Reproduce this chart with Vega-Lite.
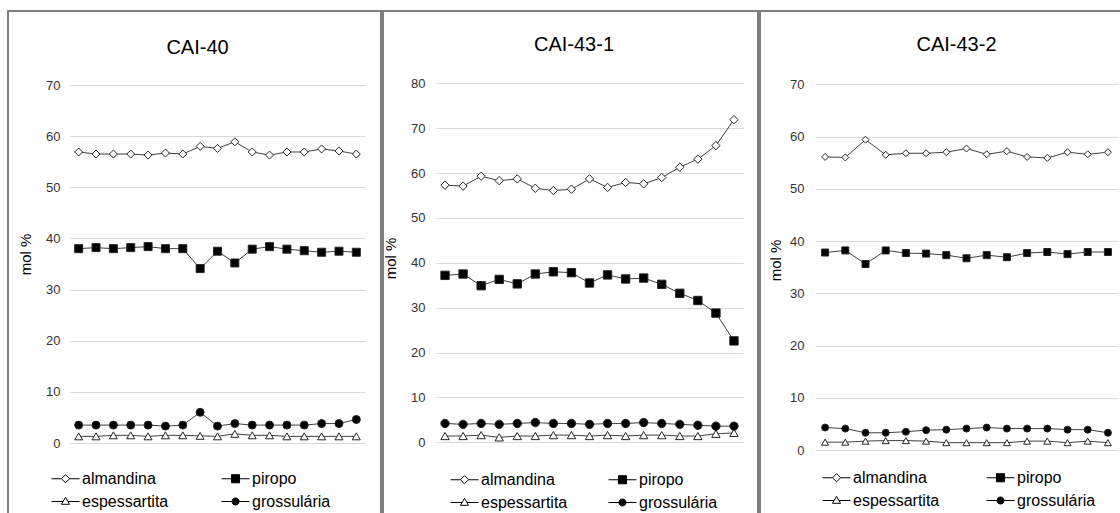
{
  "$schema": "https://vega.github.io/schema/vega-lite/v6.json",
  "padding": {"left": 7, "top": 10, "right": 0, "bottom": 0},
  "spacing": 2,
  "bounds": "flush",
  "config": {
    "font": "Liberation Sans",
    "view": {"stroke": "#7f7f7f", "strokeWidth": 2},
    "axis": {"gridColor": "#d9d9d9", "gridWidth": 1, "domain": false, "ticks": false, "tickSize": 0, "labelPadding": 0, "labelFontSize": 13, "labelColor": "#333333", "titleFontSize": 15, "titleFontWeight": "normal", "titleColor": "#000000", "titleAngle": 270, "titleAlign": "center", "titleBaseline": "middle"},
    "title": {"fontSize": 20, "fontWeight": "normal", "color": "#000000", "anchor": "middle", "baseline": "alphabetic"},
    "legend": {"padding": 0, "labelFontSize": 16, "labelColor": "#000000", "labelOffset": 2, "symbolSize": 784, "symbolStrokeWidth": 1, "symbolOpacity": 1, "rowPadding": 0, "direction": "horizontal"}
  },
  "datasets": {
    "p1": [
      {"i": 1, "almandina": 56.9, "piropo": 38.0, "espessartita": 1.3, "grossulária": 3.5},
      {"i": 2, "almandina": 56.5, "piropo": 38.2, "espessartita": 1.3, "grossulária": 3.5},
      {"i": 3, "almandina": 56.5, "piropo": 38.0, "espessartita": 1.5, "grossulária": 3.5},
      {"i": 4, "almandina": 56.5, "piropo": 38.2, "espessartita": 1.5, "grossulária": 3.5},
      {"i": 5, "almandina": 56.3, "piropo": 38.4, "espessartita": 1.3, "grossulária": 3.5},
      {"i": 6, "almandina": 56.7, "piropo": 38.0, "espessartita": 1.5, "grossulária": 3.3},
      {"i": 7, "almandina": 56.5, "piropo": 38.0, "espessartita": 1.5, "grossulária": 3.5},
      {"i": 8, "almandina": 58.0, "piropo": 34.1, "espessartita": 1.4, "grossulária": 6.0},
      {"i": 9, "almandina": 57.6, "piropo": 37.5, "espessartita": 1.3, "grossulária": 3.3},
      {"i": 10, "almandina": 58.9, "piropo": 35.2, "espessartita": 1.8, "grossulária": 3.8},
      {"i": 11, "almandina": 56.9, "piropo": 37.9, "espessartita": 1.5, "grossulária": 3.5},
      {"i": 12, "almandina": 56.3, "piropo": 38.4, "espessartita": 1.5, "grossulária": 3.5},
      {"i": 13, "almandina": 56.9, "piropo": 37.9, "espessartita": 1.3, "grossulária": 3.5},
      {"i": 14, "almandina": 56.9, "piropo": 37.6, "espessartita": 1.3, "grossulária": 3.5},
      {"i": 15, "almandina": 57.5, "piropo": 37.3, "espessartita": 1.3, "grossulária": 3.8},
      {"i": 16, "almandina": 57.1, "piropo": 37.5, "espessartita": 1.3, "grossulária": 3.8},
      {"i": 17, "almandina": 56.5, "piropo": 37.3, "espessartita": 1.3, "grossulária": 4.6}
    ],
    "p2": [
      {"i": 1, "almandina": 57.3, "piropo": 37.2, "espessartita": 1.4, "grossulária": 4.2},
      {"i": 2, "almandina": 57.1, "piropo": 37.5, "espessartita": 1.4, "grossulária": 4.0},
      {"i": 3, "almandina": 59.3, "piropo": 34.9, "espessartita": 1.6, "grossulária": 4.2},
      {"i": 4, "almandina": 58.3, "piropo": 36.3, "espessartita": 1.1, "grossulária": 4.0},
      {"i": 5, "almandina": 58.7, "piropo": 35.3, "espessartita": 1.4, "grossulária": 4.2},
      {"i": 6, "almandina": 56.6, "piropo": 37.5, "espessartita": 1.4, "grossulária": 4.4},
      {"i": 7, "almandina": 56.1, "piropo": 38.0, "espessartita": 1.6, "grossulária": 4.2},
      {"i": 8, "almandina": 56.4, "piropo": 37.8, "espessartita": 1.6, "grossulária": 4.2},
      {"i": 9, "almandina": 58.7, "piropo": 35.5, "espessartita": 1.4, "grossulária": 4.0},
      {"i": 10, "almandina": 56.8, "piropo": 37.3, "espessartita": 1.6, "grossulária": 4.2},
      {"i": 11, "almandina": 57.9, "piropo": 36.4, "espessartita": 1.4, "grossulária": 4.2},
      {"i": 12, "almandina": 57.6, "piropo": 36.6, "espessartita": 1.6, "grossulária": 4.4},
      {"i": 13, "almandina": 59.0, "piropo": 35.2, "espessartita": 1.6, "grossulária": 4.2},
      {"i": 14, "almandina": 61.3, "piropo": 33.2, "espessartita": 1.4, "grossulária": 4.0},
      {"i": 15, "almandina": 63.1, "piropo": 31.6, "espessartita": 1.4, "grossulária": 3.8},
      {"i": 16, "almandina": 66.1, "piropo": 28.8, "espessartita": 1.9, "grossulária": 3.6},
      {"i": 17, "almandina": 71.9, "piropo": 22.6, "espessartita": 2.1, "grossulária": 3.6}
    ],
    "p3": [
      {"i": 1, "almandina": 56.1, "piropo": 37.8, "espessartita": 1.5, "grossulária": 4.3},
      {"i": 2, "almandina": 56.0, "piropo": 38.2, "espessartita": 1.5, "grossulária": 4.1},
      {"i": 3, "almandina": 59.4, "piropo": 35.6, "espessartita": 1.7, "grossulária": 3.3},
      {"i": 4, "almandina": 56.5, "piropo": 38.2, "espessartita": 1.8, "grossulária": 3.3},
      {"i": 5, "almandina": 56.8, "piropo": 37.7, "espessartita": 1.8, "grossulária": 3.5},
      {"i": 6, "almandina": 56.8, "piropo": 37.6, "espessartita": 1.7, "grossulária": 3.8},
      {"i": 7, "almandina": 57.0, "piropo": 37.3, "espessartita": 1.4, "grossulária": 3.9},
      {"i": 8, "almandina": 57.7, "piropo": 36.7, "espessartita": 1.4, "grossulária": 4.1},
      {"i": 9, "almandina": 56.6, "piropo": 37.3, "espessartita": 1.4, "grossulária": 4.3},
      {"i": 10, "almandina": 57.2, "piropo": 36.9, "espessartita": 1.4, "grossulária": 4.1},
      {"i": 11, "almandina": 56.1, "piropo": 37.7, "espessartita": 1.7, "grossulária": 4.1},
      {"i": 12, "almandina": 55.9, "piropo": 37.9, "espessartita": 1.7, "grossulária": 4.1},
      {"i": 13, "almandina": 57.0, "piropo": 37.5, "espessartita": 1.4, "grossulária": 3.9},
      {"i": 14, "almandina": 56.6, "piropo": 37.9, "espessartita": 1.7, "grossulária": 3.9},
      {"i": 15, "almandina": 57.0, "piropo": 37.9, "espessartita": 1.4, "grossulária": 3.3}
    ]
  },
  "hconcat": [
    {
      "width": 373, "height": 510,
      "title": {"text": "CAI-40", "offset": -47, "dx": 3},
      "data": {"name": "p1"},
      "transform": [{"fold": ["almandina", "piropo", "espessartita", "grossulária"], "as": ["s", "v"]}],
      "encoding": {
        "x": {"field": "i", "type": "ordinal", "scale": {"type": "point", "range": [62, 357], "padding": 0.5}, "axis": null},
        "y": {"field": "v", "type": "quantitative", "scale": {"domain": [0, 70], "range": [432, 74], "nice": false}, "axis": {"title": "mol %", "values": [0, 10, 20, 30, 40, 50, 60, 70], "offset": -52, "titleX": -34.5, "titleY": 243}}
      },
      "layer": [
        {"mark": {"type": "line", "color": "#404040", "strokeWidth": 1}, "encoding": {"detail": {"field": "s"}}},
        {"mark": {"type": "point", "filled": true, "stroke": "#262626", "strokeWidth": 1, "size": 64, "opacity": 1},
         "encoding": {
           "shape": {"field": "s", "scale": {"domain": ["almandina", "piropo", "espessartita", "grossulária"], "range": ["diamond", "square", "triangle-up", "circle"]}, "legend": null},
           "fill": {"field": "s", "scale": {"domain": ["almandina", "piropo", "espessartita", "grossulária"], "range": ["#ffffff", "#000000", "#ffffff", "#000000"]}, "legend": null}
         }},
        {"mark": {"type": "point", "filled": true, "stroke": "#000000", "strokeWidth": 1, "opacity": 0},
         "encoding": {
           "shape": {"field": "s", "scale": {"domain": ["almandina", "piropo", "espessartita", "grossulária"], "range": ["M-1,0H-0.29M0.29,0H1M-0.29,0L0,-0.29L0.29,0L0,0.29Z", "M-1,0H-0.29M0.29,0H1M-0.29,-0.29H0.29V0.29H-0.29Z", "M-1,0H-0.17M0.17,0H1M0,-0.3L0.29,0.2H-0.29Z", "M-1,0H-0.25M0.25,0H1M-0.25,0A0.25,0.25 0 1,1 0.25,0A0.25,0.25 0 1,1 -0.25,0Z"]}, "legend": {"orient": "none", "legendX": 43, "legendY": 453, "columns": 2, "columnPadding": 50, "title": null}},
           "fill": {"field": "s", "scale": {"domain": ["almandina", "piropo", "espessartita", "grossulária"], "range": ["#ffffff", "#000000", "#ffffff", "#000000"]}, "legend": {"orient": "none", "legendX": 43, "legendY": 453, "columns": 2, "columnPadding": 50, "title": null}}
         }}
      ],
      "resolve": {"scale": {"shape": "independent", "fill": "independent"}}
    },
    {
      "width": 375, "height": 510,
      "title": {"text": "CAI-43-1", "offset": -44, "dx": 3.5},
      "data": {"name": "p2"},
      "transform": [{"fold": ["almandina", "piropo", "espessartita", "grossulária"], "as": ["s", "v"]}],
      "encoding": {
        "x": {"field": "i", "type": "ordinal", "scale": {"type": "point", "range": [53, 360], "padding": 0.5}, "axis": null},
        "y": {"field": "v", "type": "quantitative", "scale": {"domain": [0, 80], "range": [431.3, 72.3], "nice": false}, "axis": {"title": "mol %", "values": [0, 10, 20, 30, 40, 50, 60, 70, 80], "offset": -42, "titleX": -35, "titleY": 247}}
      },
      "layer": [
        {"mark": {"type": "line", "color": "#404040", "strokeWidth": 1}, "encoding": {"detail": {"field": "s"}}},
        {"mark": {"type": "point", "filled": true, "stroke": "#262626", "strokeWidth": 1, "size": 70, "opacity": 1},
         "encoding": {
           "shape": {"field": "s", "scale": {"domain": ["almandina", "piropo", "espessartita", "grossulária"], "range": ["diamond", "square", "triangle-up", "circle"]}, "legend": null},
           "fill": {"field": "s", "scale": {"domain": ["almandina", "piropo", "espessartita", "grossulária"], "range": ["#ffffff", "#000000", "#ffffff", "#000000"]}, "legend": null}
         }},
        {"mark": {"type": "point", "filled": true, "stroke": "#000000", "strokeWidth": 1, "opacity": 0},
         "encoding": {
           "shape": {"field": "s", "scale": {"domain": ["almandina", "piropo", "espessartita", "grossulária"], "range": ["M-1,0H-0.29M0.29,0H1M-0.29,0L0,-0.29L0.29,0L0,0.29Z", "M-1,0H-0.29M0.29,0H1M-0.29,-0.29H0.29V0.29H-0.29Z", "M-1,0H-0.17M0.17,0H1M0,-0.3L0.29,0.2H-0.29Z", "M-1,0H-0.25M0.25,0H1M-0.25,0A0.25,0.25 0 1,1 0.25,0A0.25,0.25 0 1,1 -0.25,0Z"]}, "legend": {"orient": "none", "legendX": 67, "legendY": 454, "columns": 2, "columnPadding": 38, "title": null}},
           "fill": {"field": "s", "scale": {"domain": ["almandina", "piropo", "espessartita", "grossulária"], "range": ["#ffffff", "#000000", "#ffffff", "#000000"]}, "legend": {"orient": "none", "legendX": 67, "legendY": 454, "columns": 2, "columnPadding": 38, "title": null}}
         }}
      ],
      "resolve": {"scale": {"shape": "independent", "fill": "independent"}}
    },
    {
      "width": 375, "height": 510,
      "title": {"text": "CAI-43-2", "offset": -44, "dx": 9},
      "data": {"name": "p3"},
      "transform": [{"fold": ["almandina", "piropo", "espessartita", "grossulária"], "as": ["s", "v"]}],
      "encoding": {
        "x": {"field": "i", "type": "ordinal", "scale": {"type": "point", "range": [55, 358], "padding": 0.5}, "axis": null},
        "y": {"field": "v", "type": "quantitative", "scale": {"domain": [0, 70], "range": [439, 73.3], "nice": false}, "axis": {"title": "mol %", "values": [0, 10, 20, 30, 40, 50, 60, 70], "offset": -44, "titleX": -29, "titleY": 249}}
      },
      "layer": [
        {"mark": {"type": "line", "color": "#404040", "strokeWidth": 1}, "encoding": {"detail": {"field": "s"}}},
        {"mark": {"type": "point", "filled": true, "stroke": "#262626", "strokeWidth": 1, "size": 49, "opacity": 1},
         "encoding": {
           "shape": {"field": "s", "scale": {"domain": ["almandina", "piropo", "espessartita", "grossulária"], "range": ["diamond", "square", "triangle-up", "circle"]}, "legend": null},
           "fill": {"field": "s", "scale": {"domain": ["almandina", "piropo", "espessartita", "grossulária"], "range": ["#ffffff", "#000000", "#ffffff", "#000000"]}, "legend": null}
         }},
        {"mark": {"type": "point", "filled": true, "stroke": "#000000", "strokeWidth": 1, "opacity": 0},
         "encoding": {
           "shape": {"field": "s", "scale": {"domain": ["almandina", "piropo", "espessartita", "grossulária"], "range": ["M-1,0H-0.29M0.29,0H1M-0.29,0L0,-0.29L0.29,0L0,0.29Z", "M-1,0H-0.29M0.29,0H1M-0.29,-0.29H0.29V0.29H-0.29Z", "M-1,0H-0.17M0.17,0H1M0,-0.3L0.29,0.2H-0.29Z", "M-1,0H-0.25M0.25,0H1M-0.25,0A0.25,0.25 0 1,1 0.25,0A0.25,0.25 0 1,1 -0.25,0Z"]}, "legend": {"orient": "none", "legendX": 62, "legendY": 452, "columns": 2, "columnPadding": 44, "title": null}},
           "fill": {"field": "s", "scale": {"domain": ["almandina", "piropo", "espessartita", "grossulária"], "range": ["#ffffff", "#000000", "#ffffff", "#000000"]}, "legend": {"orient": "none", "legendX": 62, "legendY": 452, "columns": 2, "columnPadding": 44, "title": null}}
         }}
      ],
      "resolve": {"scale": {"shape": "independent", "fill": "independent"}}
    }
  ]
}
